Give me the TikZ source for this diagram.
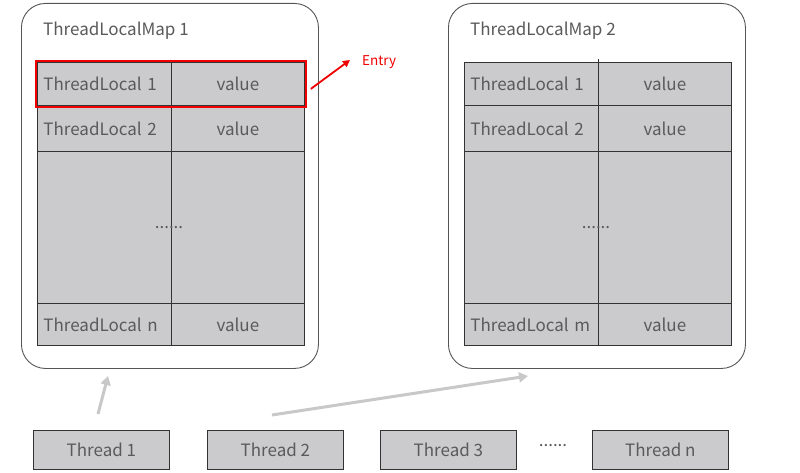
\documentclass[tikz,border=0pt]{standalone}
\usepackage{fontspec}
\setmainfont{Noto Sans CJK SC}
\usetikzlibrary{arrows.meta,fit}
\definecolor{cellgray}{HTML}{CBCBCD}
\definecolor{txtgray}{HTML}{5A5A5A}
\definecolor{arrgray}{HTML}{C8C8C8}
\definecolor{framegray}{HTML}{555555}
\definecolor{entryred}{HTML}{F00000}
\tikzset{
  mapbox/.style={draw=framegray,line width=0.9pt,rounded corners=24pt,fill=white},
  cellL/.style={draw=black!80,line width=0.8pt,fill=cellgray,anchor=north west,inner sep=0pt,
     text width=#1, align=left, text=txtgray, font=\fontsize{17}{20}\selectfont},
  cell/.style={draw=black!80,line width=0.8pt,fill=cellgray,anchor=north west,inner sep=0pt,
     text=txtgray, font=\fontsize{17}{20}\selectfont},
  thr/.style={draw=black!80,line width=0.8pt,fill=cellgray,anchor=north west,inner sep=0pt,
     minimum width=136pt,minimum height=39pt,text=txtgray,font=\fontsize{17}{20}\selectfont},
  ttl/.style={anchor=west,text=txtgray,font=\fontsize{17}{20}\selectfont,inner sep=0pt},
  dotsty/.style={text=txtgray,font=\fontsize{17}{18}\selectfont,inner sep=0pt},
  garrow/.style={draw=arrgray,line width=3pt,-{Triangle[length=9pt,width=10pt]}},
}
\begin{document}
\begin{tikzpicture}[x=1pt,y=-1pt]
\useasboundingbox (0,0) rectangle (800,473);
% maps
\node[mapbox,anchor=north west,minimum width=297pt,minimum height=365pt] (map1) at (21,3) {};
\node[mapbox,anchor=north west,minimum width=297pt,minimum height=365pt] (map2) at (448,3) {};
\node[ttl] (t1) at (43,31) {ThreadLocalMap 1};
\node[ttl] (t2) at (470,31) {ThreadLocalMap 2};
% left table
\foreach \n/\y/\h/\lab/\val in {a/62/43/{ThreadLocal 1}/value, b/105/46/{ThreadLocal 2}/value, c/151/152/{}/{}, d/303/42/{ThreadLocal n}/value}{
  \node[cellL=122pt,minimum height=\h pt,minimum width=134pt] (L\n) at (37,\y) {\lab};
  \node[cell,minimum height=\h pt,minimum width=133pt] (V\n) at (171,\y) {\val};
}
\node[dotsty] (dots1) at (169,228) {......};
% right table
\foreach \n/\y/\h/\lab/\val in {a/62/43/{ThreadLocal 1}/value, b/105/46/{ThreadLocal 2}/value, c/151/152/{}/{}, d/303/42/{ThreadLocal m}/value}{
  \node[cellL=122pt,minimum height=\h pt,minimum width=134pt] (M\n) at (464,\y) {\lab};
  \node[cell,minimum height=\h pt,minimum width=133pt] (W\n) at (598,\y) {\val};
}
\draw[black!80,line width=0.8pt] (Ma.north east) -- ++(0,-3);
\node[dotsty] (dots2) at (596,228) {......};
% entry
\node[draw=entryred,line width=2pt,inner sep=1pt,fit=(La)(Va)] (entrybox) {};
\coordinate (entrytip) at (350,60);
\draw[entryred,line width=1.8pt,-{Triangle[length=7pt,width=7pt]}] (entrybox.east) ++(4,5) -- (entrytip);
\node[anchor=west,text=entryred,font=\fontsize{13.5}{15}\selectfont,inner sep=0pt] (entry) at (362,62) {Entry};
% threads
\node[thr] (th1) at (33,430) {Thread 1};
\node[thr] (th2) at (207,430) {Thread 2};
\node[thr] (th3) at (380,430) {Thread 3};
\node[thr] (thn) at (592,430) {Thread n};
\node[dotsty] (tdots) at (553,446) {......};
% gray arrows
\coordinate (a1s) at (98,414);
\coordinate (a1e) at (108,376);
\coordinate (a2s) at (272,415);
\coordinate (a2e) at (528,376);
\draw[garrow] (a1s) -- (a1e);
\draw[garrow] (a2s) -- (a2e);
\end{tikzpicture}
\end{document}
